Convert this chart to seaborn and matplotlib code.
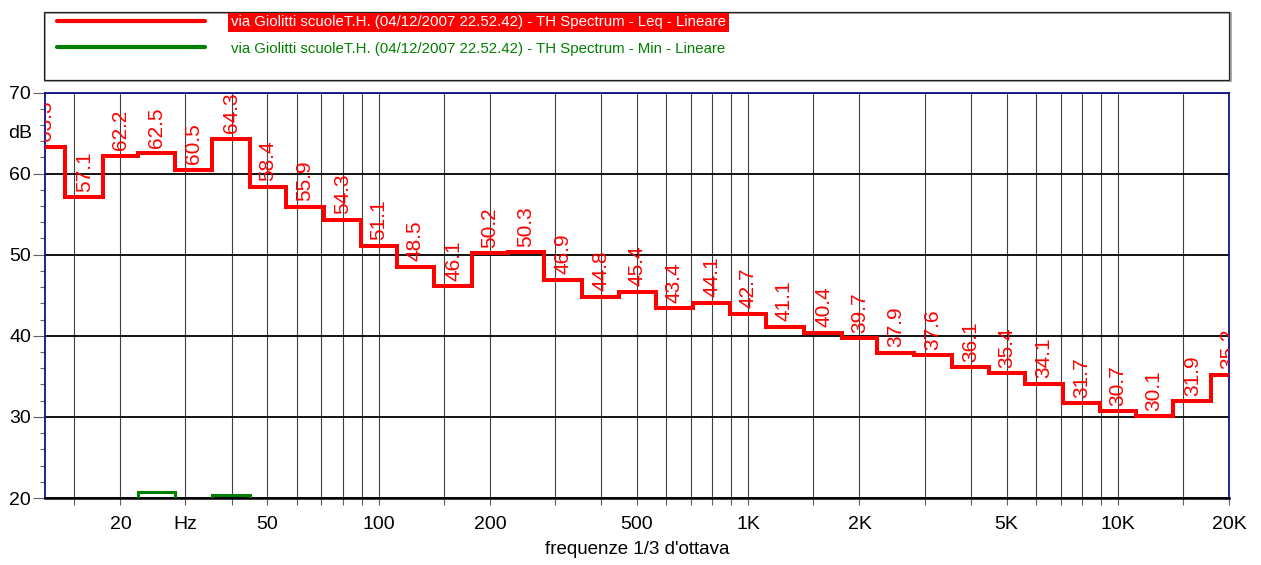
import numpy as np
import pandas as pd
import seaborn as sns
import matplotlib
matplotlib.use("Agg")
import matplotlib.pyplot as plt
from matplotlib import font_manager as fm, transforms as mtrans
from matplotlib.patches import Rectangle
from matplotlib.lines import Line2D

# ---------------- data ----------------
bands = [12.5, 16, 20, 25, 31.5, 40, 50, 63, 80, 100, 125, 160, 200, 250, 315,
         400, 500, 630, 800, 1000, 1250, 1600, 2000, 2500, 3150, 4000, 5000,
         6300, 8000, 10000, 12500, 16000, 20000]
leq = [63.3, 57.1, 62.2, 62.5, 60.5, 64.3, 58.4, 55.9, 54.3, 51.1, 48.5, 46.1,
       50.2, 50.3, 46.9, 44.8, 45.4, 43.4, 44.1, 42.7, 41.1, 40.4, 39.7, 37.9,
       37.6, 36.1, 35.4, 34.1, 31.7, 30.7, 30.1, 31.9, 35.2]
# Min spectrum: only the 25 Hz and 40 Hz bands rise above the 20 dB floor
lmin = [18.5, 18.8, 19.0, 20.7, 19.0, 20.4, 18.8, 18.2, 17.6, 17.0, 16.5, 16.0,
        15.8, 15.5, 15.2, 15.0, 14.8, 14.6, 14.4, 14.2, 14.0, 13.8, 13.6, 13.4,
        13.2, 13.0, 12.8, 12.6, 12.4, 12.2, 12.0, 11.8, 11.6]
series_names = [
    "via Giolitti scuoleT.H. (04/12/2007 22.52.42) - TH Spectrum - Leq - Lineare",
    "via Giolitti scuoleT.H. (04/12/2007 22.52.42) - TH Spectrum - Min - Lineare",
]
series_colors = ["#ff0000", "#008000"]
grid_freqs = [15, 20, 30, 40, 50, 60, 70, 80, 90, 100, 150, 200, 300, 400, 500,
              600, 700, 800, 900, 1000, 1500, 2000, 3000, 4000, 5000, 6000, 7000,
              8000, 9000, 10000, 15000, 20000]
xtick_labels = {20: "20", 30: "Hz", 50: "50", 100: "100", 200: "200", 500: "500",
                1000: "1K", 2000: "2K", 5000: "5K", 10000: "10K", 20000: "20K"}
yticks_major = [20, 30, 40, 50, 60, 70]
x_title = "frequenze 1/3 d'ottava"
y_unit = "dB"

# ---------------- style / fonts ----------------
sns.set_theme(style="white")
names = {f.name for f in fm.fontManager.ttflist}
BASE = "Liberation Sans" if "Liberation Sans" in names else "DejaVu Sans"
plt.rcParams["font.family"] = [BASE, "DejaVu Sans"]
val_size = 15
leg_size = 10.8

W, H = 1261, 565
fig = plt.figure(figsize=(W / 100, H / 100), dpi=100)
fig.patch.set_facecolor("white")
ax = fig.add_axes([45 / W, 1 - 498 / H, (1229 - 45) / W, (498 - 92.5) / H])
ax.set_facecolor("white")
ax.set_xscale("log")

# step geometry: band edges between adjacent 1/3-octave centres
half = 2 ** (1 / 6)
edges = [bands[0] / half] + [np.sqrt(a * b) for a, b in zip(bands[:-1], bands[1:])] + [bands[-1] * half]
rows = []
for name, vals in zip(series_names, [leq, lmin]):
    for i, v in enumerate(vals):
        rows.append((name, edges[i], v))
        rows.append((name, edges[i + 1], v))
df = pd.DataFrame(rows, columns=["serie", "freq", "level"])

for name, col, lw in zip(series_names, series_colors, [2.9, 2.2]):
    sns.lineplot(data=df[df.serie == name], x="freq", y="level", color=col,
                 linewidth=lw, sort=False, estimator=None, ax=ax, legend=False,
                 solid_joinstyle="miter", solid_capstyle="butt", zorder=3)

ax.set_xlim(12.5, 20000)
ax.set_ylim(20, 70)

# value labels
trans = mtrans.offset_copy(ax.transData, fig=fig, x=0, y=4, units="points")
for f, v in zip(bands, leq):
    ax.text(f, v, f"{v:.1f}", transform=trans, rotation=90, ha="center",
            va="bottom", color="#ff0000", fontsize=val_size,
            clip_on=True, zorder=4)

# ticks and grid
ax.set_xticks(grid_freqs)
ax.set_xticklabels([xtick_labels.get(f, "") for f in grid_freqs])
ax.xaxis.set_minor_locator(matplotlib.ticker.NullLocator())
ax.set_yticks(yticks_major)
ax.set_yticklabels([str(t) for t in yticks_major])
ax.set_yticks([t for t in range(20, 71, 2) if t % 10], minor=True)
ax.tick_params(axis="x", which="major", bottom=True, direction="out", length=5,
               width=0.8, color="#606060", pad=8, labelsize=14, labelcolor="black")
ax.tick_params(axis="y", which="major", left=True, direction="out", length=8.5,
               width=0.8, color="#606060", pad=1.5, labelsize=14, labelcolor="black")
ax.tick_params(axis="y", which="minor", left=True, direction="out", length=3.6,
               width=0.8, color="#606060")
ax.grid(axis="x", which="major", color="#404040", linewidth=0.8)
ax.grid(axis="y", which="major", color="black", linewidth=1.3)
ax.set_axisbelow(True)

for s in ["left", "top", "right"]:
    ax.spines[s].set_visible(True)
    ax.spines[s].set_color("#10108a")
    ax.spines[s].set_linewidth(1.3)
ax.spines["bottom"].set_visible(True)
ax.spines["bottom"].set_color("black")
ax.spines["bottom"].set_linewidth(1.8)

ax.set_xlabel(x_title, fontsize=13.5, labelpad=6, color="black")
ax.set_ylabel("")
ax.text(-0.0105, 65, y_unit, transform=ax.get_yaxis_transform(), ha="right",
        va="center", fontsize=14, color="black")

# legend
frame_shadow = Rectangle((45.5 / W, 1 - 81.5 / H), (1229 - 44) / W, (80 - 11.7) / H,
                         transform=fig.transFigure, fill=False, edgecolor="#9a9a9a",
                         linewidth=1.2, zorder=0)
frame = Rectangle((44 / W, 1 - 80 / H), (1229 - 44) / W, (80 - 11.7) / H,
                  transform=fig.transFigure, fill=False, edgecolor="#222222",
                  linewidth=0.9, zorder=1)
fig.add_artist(frame_shadow)
fig.add_artist(frame)
em = leg_size * 100 / 72
handles = [Line2D([], [], color=c, linewidth=lw) for c, lw in zip(series_colors, [3.0, 3.0])]
row_h = 1.17 * em
leg = fig.legend(handles, series_names, loc="upper left",
                 bbox_to_anchor=(57 / W, 1 - (24 - row_h / 2) / H),
                 bbox_transform=fig.transFigure, frameon=False, borderpad=0,
                 borderaxespad=0, handlelength=148 / em, handletextpad=26 / em,
                 labelspacing=(30 - row_h) / em,
                 prop={"size": leg_size})
t0, t1 = leg.get_texts()
t0.set_color("white")
t0.set_bbox(dict(facecolor="#ff0000", edgecolor="none", pad=1.8))
t1.set_color("#008000")

fig.savefig("out.png", dpi=100, facecolor="white")
